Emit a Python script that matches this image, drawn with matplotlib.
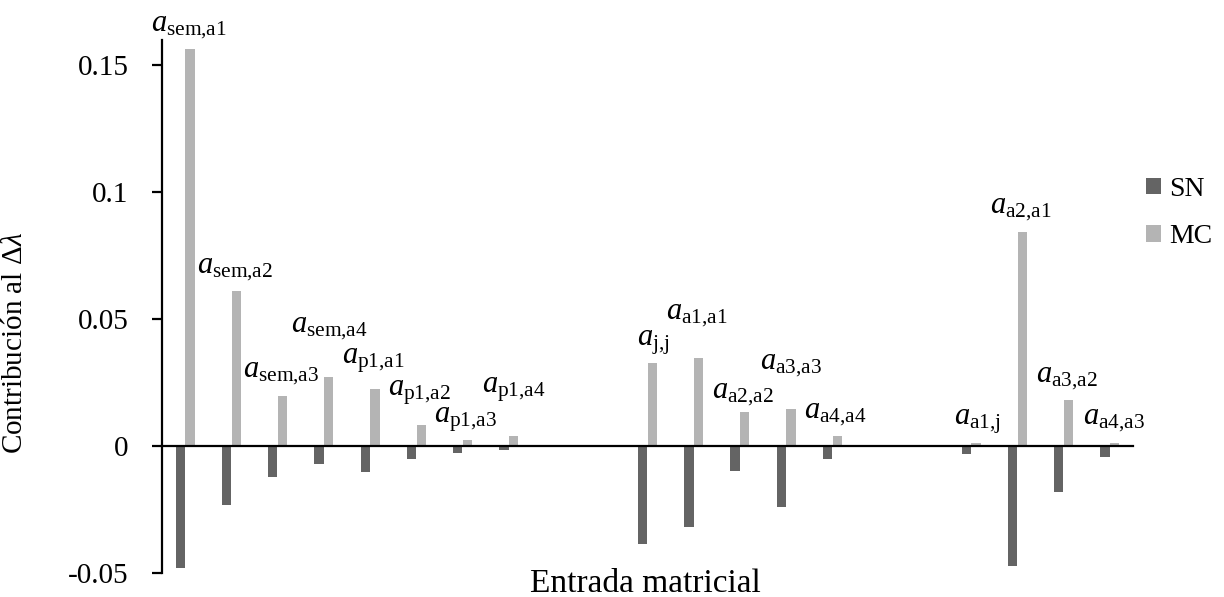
import matplotlib
matplotlib.use("Agg")
import matplotlib.pyplot as plt
import numpy as np

plt.rcParams['font.family'] = ['Liberation Serif', 'DejaVu Serif']
plt.rcParams['mathtext.fontset'] = 'custom'
plt.rcParams['mathtext.rm'] = 'Liberation Serif'
plt.rcParams['mathtext.it'] = 'Liberation Serif:italic'
plt.rcParams['mathtext.bf'] = 'Liberation Serif:bold'

# ---- data ----
n_categories = 21
sn_values = [-0.048, -0.0234, -0.0122, -0.0072, -0.0103, -0.0053, -0.0028, -0.0017,
             0, 0,
             -0.0385, -0.032, -0.0099, -0.024, -0.0053,
             0, 0,
             -0.0033, -0.0474, -0.0184, -0.0046]
mc_values = [0.1562, 0.0609, 0.0195, 0.027, 0.0225, 0.0083, 0.0022, 0.0038,
             0, 0,
             0.0326, 0.0346, 0.0134, 0.0145, 0.0038,
             0, 0,
             0.0011, 0.0842, 0.018, 0.0011]
series_names = ["SN", "MC"]
entry_labels = [r"$a_{\mathrm{sem{,}a1}}$", r"$a_{\mathrm{sem{,}a2}}$", r"$a_{\mathrm{sem{,}a3}}$",
                r"$a_{\mathrm{sem{,}a4}}$", r"$a_{\mathrm{p1{,}a1}}$", r"$a_{\mathrm{p1{,}a2}}$",
                r"$a_{\mathrm{p1{,}a3}}$", r"$a_{\mathrm{p1{,}a4}}$",
                r"$a_{\mathrm{j{,}j}}$", r"$a_{\mathrm{a1{,}a1}}$", r"$a_{\mathrm{a2{,}a2}}$",
                r"$a_{\mathrm{a3{,}a3}}$", r"$a_{\mathrm{a4{,}a4}}$",
                r"$a_{\mathrm{a1{,}j}}$", r"$a_{\mathrm{a2{,}a1}}$", r"$a_{\mathrm{a3{,}a2}}$",
                r"$a_{\mathrm{a4{,}a3}}$"]
# category index of each labelled entry
entry_index = [0, 1, 2, 3, 4, 5, 6, 7, 10, 11, 12, 13, 14, 17, 18, 19, 20]
yticks = [-0.05, 0, 0.05, 0.1, 0.15]
ytick_labels = ["-0.05", "0", "0.05", "0.1", "0.15"]

# label placement (centre of each label, data units)
label_dx = [0.08, 0.08, 0.08, 0.13, 0.08, 0.08, 0.06, 0.1,
            0.12, 0.06, 0.06, 0.1, 0.07, 0.13, 0.07, 0.08, 0.08]
label_y = [0.165, 0.070, 0.0288, 0.0466, 0.0335, 0.0211, 0.0105, 0.0221,
           0.0408, 0.0517, 0.0207, 0.032, 0.0128, 0.0097, 0.0933, 0.027, 0.0103]

sn_color = "#646464"
mc_color = "#b4b4b4"

fig = plt.figure(figsize=(12.24, 5.97), dpi=100)
ax = fig.add_axes([162/1224, (597-572.7)/597, (1133-162)/1224, (572.7-39.6)/597])

x = np.arange(n_categories)
w = 0.2
ax.bar(x - 0.105, sn_values, width=w, color=sn_color, label=series_names[0], zorder=2)
ax.bar(x + 0.105, mc_values, width=w, color=mc_color, label=series_names[1], zorder=2)

ax.set_xlim(-0.5, n_categories - 0.5)
ax.set_ylim(-0.05, 0.16)

for s in ["top", "right"]:
    ax.spines[s].set_visible(False)
ax.spines["bottom"].set_position(("data", 0))
ax.spines["bottom"].set_linewidth(1.6)
ax.spines["bottom"].set_zorder(3)
ax.spines["left"].set_linewidth(1.6)
ax.set_xticks([])
ax.set_yticks(yticks)
ax.set_yticklabels(ytick_labels)
ax.tick_params(axis="y", direction="out", length=7, width=1.6, pad=17, labelsize=21)

for lab, idx, dx, yy in zip(entry_labels, entry_index, label_dx, label_y):
    ax.text(idx + dx, yy, lab, ha="center", va="center", fontsize=22, clip_on=False)

ax.set_ylabel(r"Contribución al $\Delta\lambda$", fontsize=21)
ax.yaxis.set_label_coords((28 - 162) / (1133 - 162), (572.7 - 343) / (572.7 - 39.6))
fig.text(645/1224, (597 - 592)/597, "Entrada matricial", ha="center", va="baseline", fontsize=24)

fig.legend(loc="center left", bbox_to_anchor=(1146/1224, (597-213)/597), frameon=False,
           fontsize=20, handlelength=0.55, handleheight=0.55, handletextpad=0.3,
           labelspacing=0.8, borderpad=0, borderaxespad=0)

fig.savefig("out.png", dpi=100)
